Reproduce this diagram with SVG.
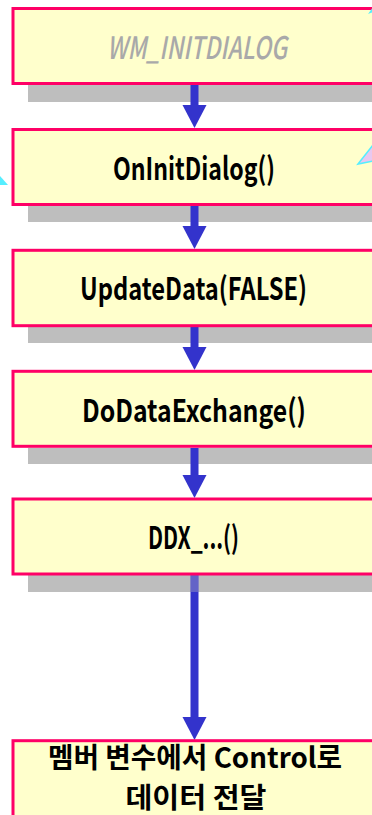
<svg xmlns="http://www.w3.org/2000/svg" width="372" height="815" viewBox="0 0 372 815">
<style>
.box{fill:#ffffcc;stroke:#ff0066;stroke-width:3}
.shadow{fill:#bebebe}
.lbl{font-family:"Noto Sans CJK KR","Liberation Sans",sans-serif;font-size:31px;font-weight:700;fill:#000;text-anchor:middle}
.ital{font-family:"Noto Sans CJK KR","Liberation Sans",sans-serif;font-size:31px;font-style:italic;font-weight:500;fill:#a9a9a9;text-anchor:middle}
.kor{font-family:"Noto Sans CJK KR",sans-serif;font-size:28px;font-weight:700;fill:#000;text-anchor:middle}
.shaft{fill:#3333cc}
.head{fill:#3333cc}
.deco{fill:#e8c8f0;stroke:#55eeff;stroke-width:1.5}
</style>
<rect width="372" height="815" fill="#ffffff"/>
<g id="shadows">
<rect class="shadow" x="28" y="85" width="350" height="17"/>
<rect class="shadow" x="28" y="206" width="350" height="16"/>
<rect class="shadow" x="28" y="327" width="350" height="16"/>
<rect class="shadow" x="28" y="448" width="350" height="16"/>
<rect class="shadow" x="28" y="575" width="350" height="17"/>
</g>
<g id="connectors">
<rect class="shaft" x="190.5" y="85" width="8" height="21"/>
<polygon class="head" points="182.5,105 206.5,105 194.5,128"/>
<rect class="shaft" x="190.5" y="206" width="8" height="21"/>
<polygon class="head" points="182.5,226 206.5,226 194.5,249"/>
<rect class="shaft" x="190.5" y="327" width="8" height="21"/>
<polygon class="head" points="182.5,347 206.5,347 194.5,370"/>
<rect class="shaft" x="190.5" y="448" width="8" height="28"/>
<polygon class="head" points="182.5,475 206.5,475 194.5,498"/>
<rect class="shaft" x="190.5" y="575" width="8" height="143"/>
<polygon class="head" points="182.5,717 206.5,717 194.5,740"/>
</g>
<rect x="190.5" y="575" width="8" height="17" fill="#bebebe" opacity="0.35"/>
<g id="n1">
<rect class="box" x="13" y="8.5" width="370" height="75"/>
<text class="ital" x="197" y="59" textLength="180" lengthAdjust="spacingAndGlyphs">WM_INITDIALOG</text>
</g>
<g id="n2">
<rect class="box" x="13" y="129.5" width="370" height="75"/>
<text class="lbl" x="194" y="180" textLength="162" lengthAdjust="spacingAndGlyphs">OnInitDialog()</text>
</g>
<g id="n3">
<rect class="box" x="13" y="250.3" width="370" height="75.4"/>
<text class="lbl" x="193.5" y="300" textLength="227" lengthAdjust="spacingAndGlyphs">UpdateData(FALSE)</text>
</g>
<g id="n4">
<rect class="box" x="13" y="371.3" width="370" height="75"/>
<text class="lbl" x="194" y="422" textLength="224" lengthAdjust="spacingAndGlyphs">DoDataExchange()</text>
</g>
<g id="n5">
<rect class="box" x="13" y="499" width="370" height="75"/>
<text class="lbl" x="193.5" y="549" textLength="91" lengthAdjust="spacingAndGlyphs">DDX_...()</text>
</g>
<g id="n6">
<rect class="box" x="13" y="740.7" width="370" height="90"/>
<text class="kor" x="195" y="768" textLength="294" lengthAdjust="spacingAndGlyphs">멤버 변수에서 Control로</text>
<text class="kor" x="196" y="808" textLength="141" lengthAdjust="spacingAndGlyphs">데이터 전달</text>
</g>
<g id="fragments">
<polygon points="0,176 8,185 0,185" fill="#55eeff"/>
<polygon class="deco" points="358,164 373,145 373,161"/>
<polygon points="368,14 373,7 373,12" fill="#55eeff"/>
</g>
</svg>
